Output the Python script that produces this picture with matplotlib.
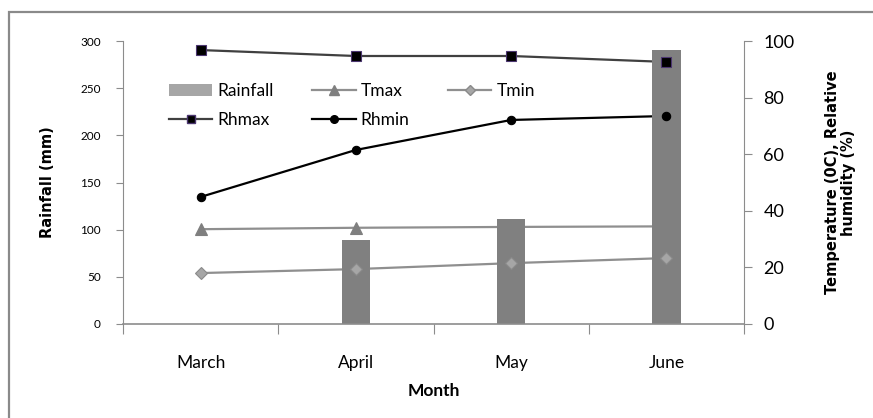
import matplotlib
matplotlib.use("Agg")
import matplotlib.pyplot as plt
from matplotlib.patches import Rectangle, Patch
from matplotlib.lines import Line2D
import numpy as np

months = ["March", "April", "May", "June"]
rainfall = [0, 89, 111, 290]
tmax = [33.5, 34.0, 34.3, 34.5]
tmin = [18.0, 19.4, 21.5, 23.3]
rhmax = [96.8, 94.7, 94.7, 92.6]
rhmin = [44.9, 61.5, 72.1, 73.5]

narrow = ["Lato", "DejaVu Sans"]
axis_gray = "#8c8c8c"

fig = plt.figure(figsize=(8.73, 4.18), dpi=100)
fig.patch.set_facecolor("white")
fig.patches.append(Rectangle((9 / 873, -0.05), 1.2, 1 - 12 / 418 + 0.05,
                             transform=fig.transFigure, fill=False,
                             edgecolor="#8a8a8a", linewidth=1.6))

pos = [123 / 873, 1 - 324 / 418, (744 - 123) / 873, (324 - 41) / 418]
ax_lines = fig.add_axes(pos)   # lines (bottom)
ax = fig.add_axes(pos)         # bars (middle)
ax_mk = fig.add_axes(pos)      # markers (top)
ax_lines.set_zorder(1)
ax.set_zorder(2)
ax_mk.set_zorder(3)
ax.patch.set_visible(False)
ax_mk.patch.set_visible(False)

x = np.arange(len(months))

ax.bar(x, rainfall, width=0.185, color="#808080", edgecolor="none")
ax.set_xlim(-0.5, 3.5)
ax.set_ylim(0, 300)
ax.set_yticks(range(0, 301, 50))

line_specs = [
    (tmax, "#8f8f8f", "^", "#7f7f7f", "#7f7f7f", 8, [0, 1]),
    (tmin, "#8f8f8f", "D", "#a6a6a6", "#8a8a8a", 6.5, [0, 1, 2, 3]),
    (rhmax, "#404040", "s", "#000000", "#4b3670", 6.5, [0, 1, 2, 3]),
    (rhmin, "#000000", "o", "#000000", "#000000", 6, [0, 1, 2, 3]),
]
for vals, lc, m, mfc, mec, ms, mev in line_specs:
    ax_lines.plot(x, vals, color=lc, linewidth=1.6)
    ax_mk.plot(x[mev], np.array(vals)[mev], linestyle="none", marker=m,
               markerfacecolor=mfc, markeredgecolor=mec, markersize=ms,
               markeredgewidth=0.8)

for a in (ax_lines, ax_mk):
    a.set_xlim(-0.5, 3.5)
    a.set_ylim(0, 100)
    a.axis("off")

# right axis
axr = ax.twinx()
axr.set_zorder(0)
axr.set_ylim(0, 100)
axr.set_yticks(range(0, 101, 20))
axr.tick_params(axis="y", direction="out", length=6, color=axis_gray,
                labelsize=13, pad=8)
for t in axr.get_yticklabels():
    t.set_family(narrow)
for s in ["top", "left", "bottom"]:
    axr.spines[s].set_visible(False)
axr.spines["right"].set_color(axis_gray)
axr.set_ylabel("Temperature (0C), Relative\nhumidity (%)", fontsize=10.5,
               fontweight="bold", family="DejaVu Sans", labelpad=22,
               linespacing=1.1)

# left axis / x axis
ax.spines["top"].set_visible(False)
ax.spines["right"].set_visible(False)
ax.spines["left"].set_color(axis_gray)
ax.spines["bottom"].set_color(axis_gray)
ax.spines["bottom"].set_linewidth(1.2)
ax.tick_params(axis="y", direction="out", length=5, color=axis_gray,
               labelsize=8.5, pad=11)
for t in ax.get_yticklabels():
    t.set_family(narrow)
ax.set_xticks(np.arange(-0.5, 3.6, 1.0))
ax.set_xticklabels([])
ax.set_xticks(x, minor=True)
ax.set_xticklabels(months, minor=True, family=narrow, fontsize=12.5)
ax.tick_params(axis="x", which="major", direction="out", length=7,
               color=axis_gray)
ax.tick_params(axis="x", which="minor", length=0, pad=22)
ax.set_xlabel("Month", fontsize=12.5, fontweight="bold", family=narrow,
              labelpad=9)
ax.set_ylabel("Rainfall (mm)", fontsize=10.5, fontweight="bold",
              family="DejaVu Sans", labelpad=18)

# legend
h_rain = Patch(facecolor="#a6a6a6", edgecolor="none")
h_tmax = Line2D([], [], color="#8f8f8f", lw=1.6, marker="^",
                markerfacecolor="#7f7f7f", markeredgecolor="#7f7f7f", ms=7)
h_tmin = Line2D([], [], color="#8f8f8f", lw=1.6, marker="D",
                markerfacecolor="#a6a6a6", markeredgecolor="#8a8a8a", ms=5.5)
h_rhmax = Line2D([], [], color="#404040", lw=1.6, marker="s",
                 markerfacecolor="#000000", markeredgecolor="#4b3670", ms=6)
h_rhmin = Line2D([], [], color="#000000", lw=1.6, marker="o",
                 markerfacecolor="#000000", markeredgecolor="#000000", ms=5.5)
leg = ax_mk.legend([h_rain, h_rhmax, h_tmax, h_rhmin, h_tmin],
                   ["Rainfall", "Rhmax", "Tmax", "Rhmin", "Tmin"],
                   ncol=3, loc="upper left",
                   bbox_to_anchor=((162 - 123) / 621, (324 - 76) / 283),
                   frameon=False, prop={"family": narrow, "size": 12.5},
                   handlelength=2.5, handletextpad=0.3, columnspacing=2.2,
                   labelspacing=0.75, borderaxespad=0)

fig.savefig("out.png", dpi=100, facecolor="white")
